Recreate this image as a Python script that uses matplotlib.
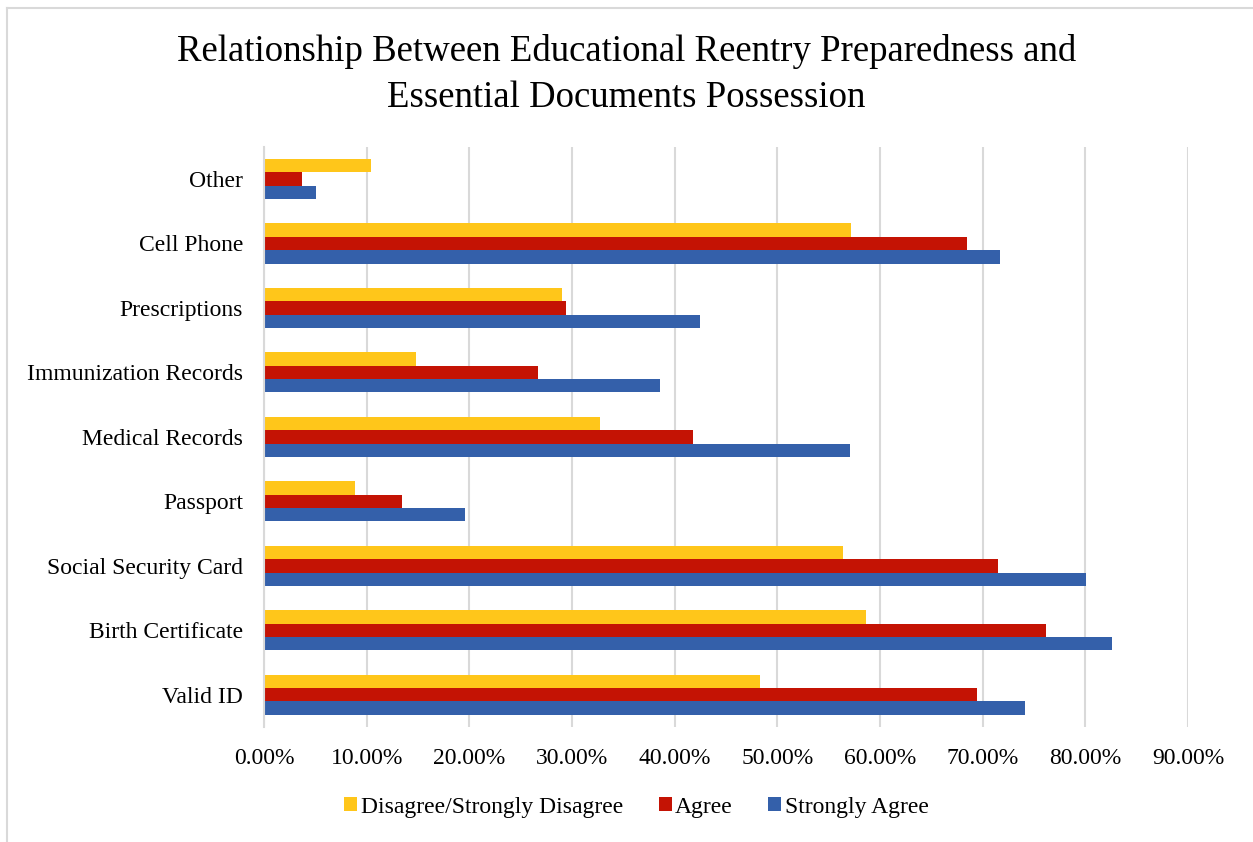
import numpy as np
import matplotlib
matplotlib.use("Agg")
import matplotlib.pyplot as plt
from matplotlib.lines import Line2D

# data (bottom to top)
categories = ["Valid ID", "Birth Certificate", "Social Security Card", "Passport",
              "Medical Records", "Immunization Records", "Prescriptions",
              "Cell Phone", "Other"]
disagree = [0.483, 0.586, 0.564, 0.089, 0.327, 0.148, 0.290, 0.572, 0.104]
agree = [0.694, 0.762, 0.715, 0.134, 0.418, 0.267, 0.294, 0.685, 0.037]
strongly_agree = [0.741, 0.826, 0.801, 0.196, 0.571, 0.386, 0.425, 0.717, 0.051]
series_names = ["Disagree/Strongly Disagree", "Agree", "Strongly Agree"]
xticks = np.arange(0, 0.91, 0.1)

colors = ["#FFC61A", "#C41304", "#3460AA"]

plt.rcParams['font.family'] = ['Liberation Serif', 'DejaVu Serif']

fig = plt.figure(figsize=(12.53, 8.42), dpi=100)
ax = fig.add_axes([264 / 1253, 1 - 727 / 842, (1188 - 264) / 1253, (727 - 146.7) / 842])

y = np.arange(len(categories))
h = 0.208
ax.barh(y + h, disagree, height=h, color=colors[0], label=series_names[0], zorder=3)
ax.barh(y, agree, height=h, color=colors[1], label=series_names[1], zorder=3)
ax.barh(y - h, strongly_agree, height=h, color=colors[2], label=series_names[2], zorder=3)

ax.set_xlim(0, 0.9)
ax.set_ylim(-0.5, len(categories) - 0.5)
ax.set_xticks(xticks)
ax.set_xticklabels([f"{v * 100:.2f}%" for v in xticks], fontsize=17)
ax.set_yticks(y)
ax.set_yticklabels(categories, fontsize=17)
ax.tick_params(axis='both', length=0)
ax.tick_params(axis='x', pad=15)
ax.tick_params(axis='y', pad=15)
ax.xaxis.grid(True, color="#D9D9D9", linewidth=1.5, zorder=0)

for s in ["top", "right", "bottom"]:
    ax.spines[s].set_visible(False)
ax.spines["left"].set_color("#D9D9D9")
ax.spines["left"].set_linewidth(1.5)
ax.spines["left"].set_zorder(4)

fig.suptitle("Relationship Between Educational Reentry Preparedness and\nEssential Documents Possession",
             fontsize=26.5, y=1 - 34 / 842, va="top", linespacing=1.42)

fig.legend(loc="center", bbox_to_anchor=(0.508, 1 - 807 / 842), ncol=3, frameon=False,
           fontsize=17, handlelength=0.55, handleheight=0.55, handletextpad=0.15,
           columnspacing=1.5)

# chart border (top and left visible)
fig.add_artist(Line2D([7 / 1253, 7 / 1253], [0, 1 - 8 / 842], transform=fig.transFigure,
                      color="#D9D9D9", linewidth=1.5))
fig.add_artist(Line2D([7 / 1253, 1], [1 - 8 / 842, 1 - 8 / 842], transform=fig.transFigure,
                      color="#D9D9D9", linewidth=1.5))

fig.savefig("out.png", dpi=100)
